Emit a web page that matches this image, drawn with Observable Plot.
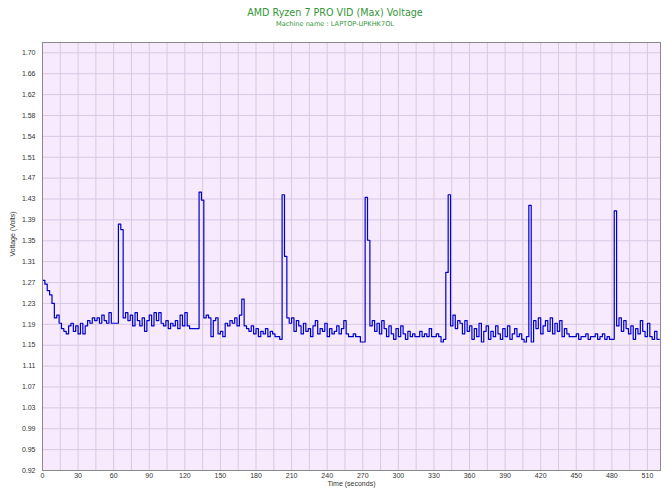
<!DOCTYPE html>
<html>
<head>
<meta charset="utf-8">
<script src="https://cdn.jsdelivr.net/npm/d3@7"></script>
<script src="https://cdn.jsdelivr.net/npm/@observablehq/plot@0.6"></script>
<style>
  html, body { margin: 0; padding: 0; background: #ffffff; }
  #wrap { width: 670px; height: 502px; position: relative; overflow: hidden; }
  #head { height: 32px; text-align: center; font-family: "DejaVu Sans", Verdana, sans-serif; color: #35963a; }
  #title { font-size: 9.6px; line-height: 11px; padding-top: 7px; }
  #subtitle { font-size: 6.6px; line-height: 9px; padding-top: 2px; }
  svg { display: block; }
</style>
</head>
<body>
<div id="wrap">
  <div id="head">
    <div id="title">AMD Ryzen 7 PRO VID (Max) Voltage</div>
    <div id="subtitle">Machine name : LAPTOP-UPKHK7OL</div>
  </div>
  <div id="chart"></div>
</div>
<script>
// ---- data ----
const timeStep = 2; // seconds between samples
const voltage = [
  1.275,1.268,1.256,1.248,1.232,1.205,1.21,1.195,1.185,1.18,
  1.175,1.19,1.195,1.18,1.19,1.175,1.195,1.175,1.19,1.20,
  1.195,1.205,1.20,1.205,1.195,1.21,1.20,1.195,1.215,1.195,
  1.195,1.195,1.38,1.37,1.205,1.215,1.20,1.21,1.19,1.215,
  1.20,1.19,1.205,1.18,1.20,1.21,1.19,1.215,1.20,1.215,
  1.195,1.19,1.20,1.185,1.195,1.19,1.20,1.185,1.21,1.19,
  1.215,1.19,1.185,1.185,1.185,1.185,1.44,1.425,1.205,1.21,
  1.205,1.17,1.20,1.205,1.175,1.18,1.17,1.195,1.19,1.20,
  1.195,1.205,1.19,1.21,1.24,1.19,1.185,1.18,1.19,1.175,
  1.185,1.17,1.18,1.175,1.185,1.17,1.18,1.175,1.17,1.17,
  1.165,1.435,1.32,1.205,1.195,1.205,1.18,1.20,1.19,1.175,
  1.195,1.18,1.185,1.17,1.19,1.20,1.175,1.185,1.18,1.195,
  1.17,1.185,1.175,1.18,1.19,1.175,1.185,1.20,1.175,1.17,
  1.17,1.175,1.17,1.17,1.16,1.16,1.43,1.35,1.19,1.20,
  1.18,1.195,1.175,1.20,1.185,1.17,1.19,1.175,1.165,1.185,
  1.17,1.19,1.175,1.165,1.18,1.17,1.175,1.17,1.17,1.18,
  1.17,1.175,1.17,1.185,1.17,1.17,1.175,1.17,1.16,1.165,
  1.29,1.435,1.19,1.21,1.185,1.20,1.195,1.175,1.20,1.18,
  1.19,1.165,1.185,1.17,1.195,1.16,1.18,1.19,1.165,1.18,
  1.17,1.19,1.175,1.165,1.185,1.17,1.19,1.165,1.175,1.185,
  1.17,1.175,1.165,1.16,1.17,1.415,1.16,1.20,1.185,1.205,
  1.175,1.19,1.20,1.18,1.205,1.175,1.195,1.18,1.20,1.17,
  1.185,1.175,1.17,1.17,1.17,1.175,1.165,1.17,1.17,1.175,
  1.165,1.17,1.17,1.175,1.165,1.17,1.175,1.165,1.17,1.165,
  1.165,1.405,1.19,1.205,1.18,1.20,1.185,1.175,1.19,1.165,
  1.185,1.175,1.20,1.18,1.17,1.195,1.17,1.165,1.18,1.165,
  1.165
];
const xTickLabels = [0,30,60,90,120,150,180,210,240,270,300,330,360,390,420,450,480,510];
const xGridValues = [0,15,30,45,60,75,90,105,120,135,150,165,180,195,210,225,240,255,270,285,300,315,330,345,360,375,390,405,420,435,450,465,480,495,510];
const yTickLabels = ["0.92","0.95","0.99","1.03","1.07","1.11","1.15","1.19","1.23","1.27","1.31","1.35","1.39","1.43","1.47","1.51","1.54","1.58","1.62","1.66","1.70"];
const yMin = 0.92, yMaxTick = 1.70;

// ---- build ----
const data = voltage.map((v, i) => ({t: i * timeStep, v}));
const yStep = (yMaxTick - yMin) / (yTickLabels.length - 1);
const yTickPos = yTickLabels.map((_, i) => yMin + i * yStep);
const yLabelMap = new Map(yTickPos.map((p, i) => [p, yTickLabels[i]]));

const chart = Plot.plot({
  width: 670,
  height: 470,
  marginTop: 10,
  marginBottom: 32,
  marginLeft: 42,
  marginRight: 10,
  style: {background: "#ffffff", fontFamily: "'Liberation Sans Narrow', 'Liberation Sans', Arial, sans-serif", fontSize: "7px", color: "#333"},
  x: {domain: [0, 521]},
  y: {domain: [0.92, 1.7193]},
  marks: [
    Plot.frame({fill: "#F6EAFC", stroke: null}),
    Plot.gridX(xGridValues, {stroke: "#D9C8E2", strokeOpacity: 1, strokeWidth: 1}),
    Plot.gridY(yTickPos, {stroke: "#D9C8E2", strokeOpacity: 1, strokeWidth: 1}),
    Plot.line(data, {x: "t", y: "v", curve: "step-after", stroke: "#0000CC", strokeWidth: 1.2}),
    Plot.frame({stroke: "#8a8a8a", strokeWidth: 1}),
    Plot.axisX(xTickLabels, {tickSize: 0, tickPadding: 3, label: null, fill: "#333"}),
    Plot.axisY(yTickPos, {tickSize: 0, tickPadding: 7, label: null, tickFormat: d => yLabelMap.get(d), fill: "#333"}),
    Plot.text(["Time (seconds)"], {frameAnchor: "bottom", dy: 15, fill: "#333", fontSize: 7}),
    Plot.text(["Voltage (Volts)"], {frameAnchor: "left", dx: -30, rotate: -90, fill: "#333", fontSize: 7})
  ]
});
document.getElementById("chart").appendChild(chart);
</script>
</body>
</html>
